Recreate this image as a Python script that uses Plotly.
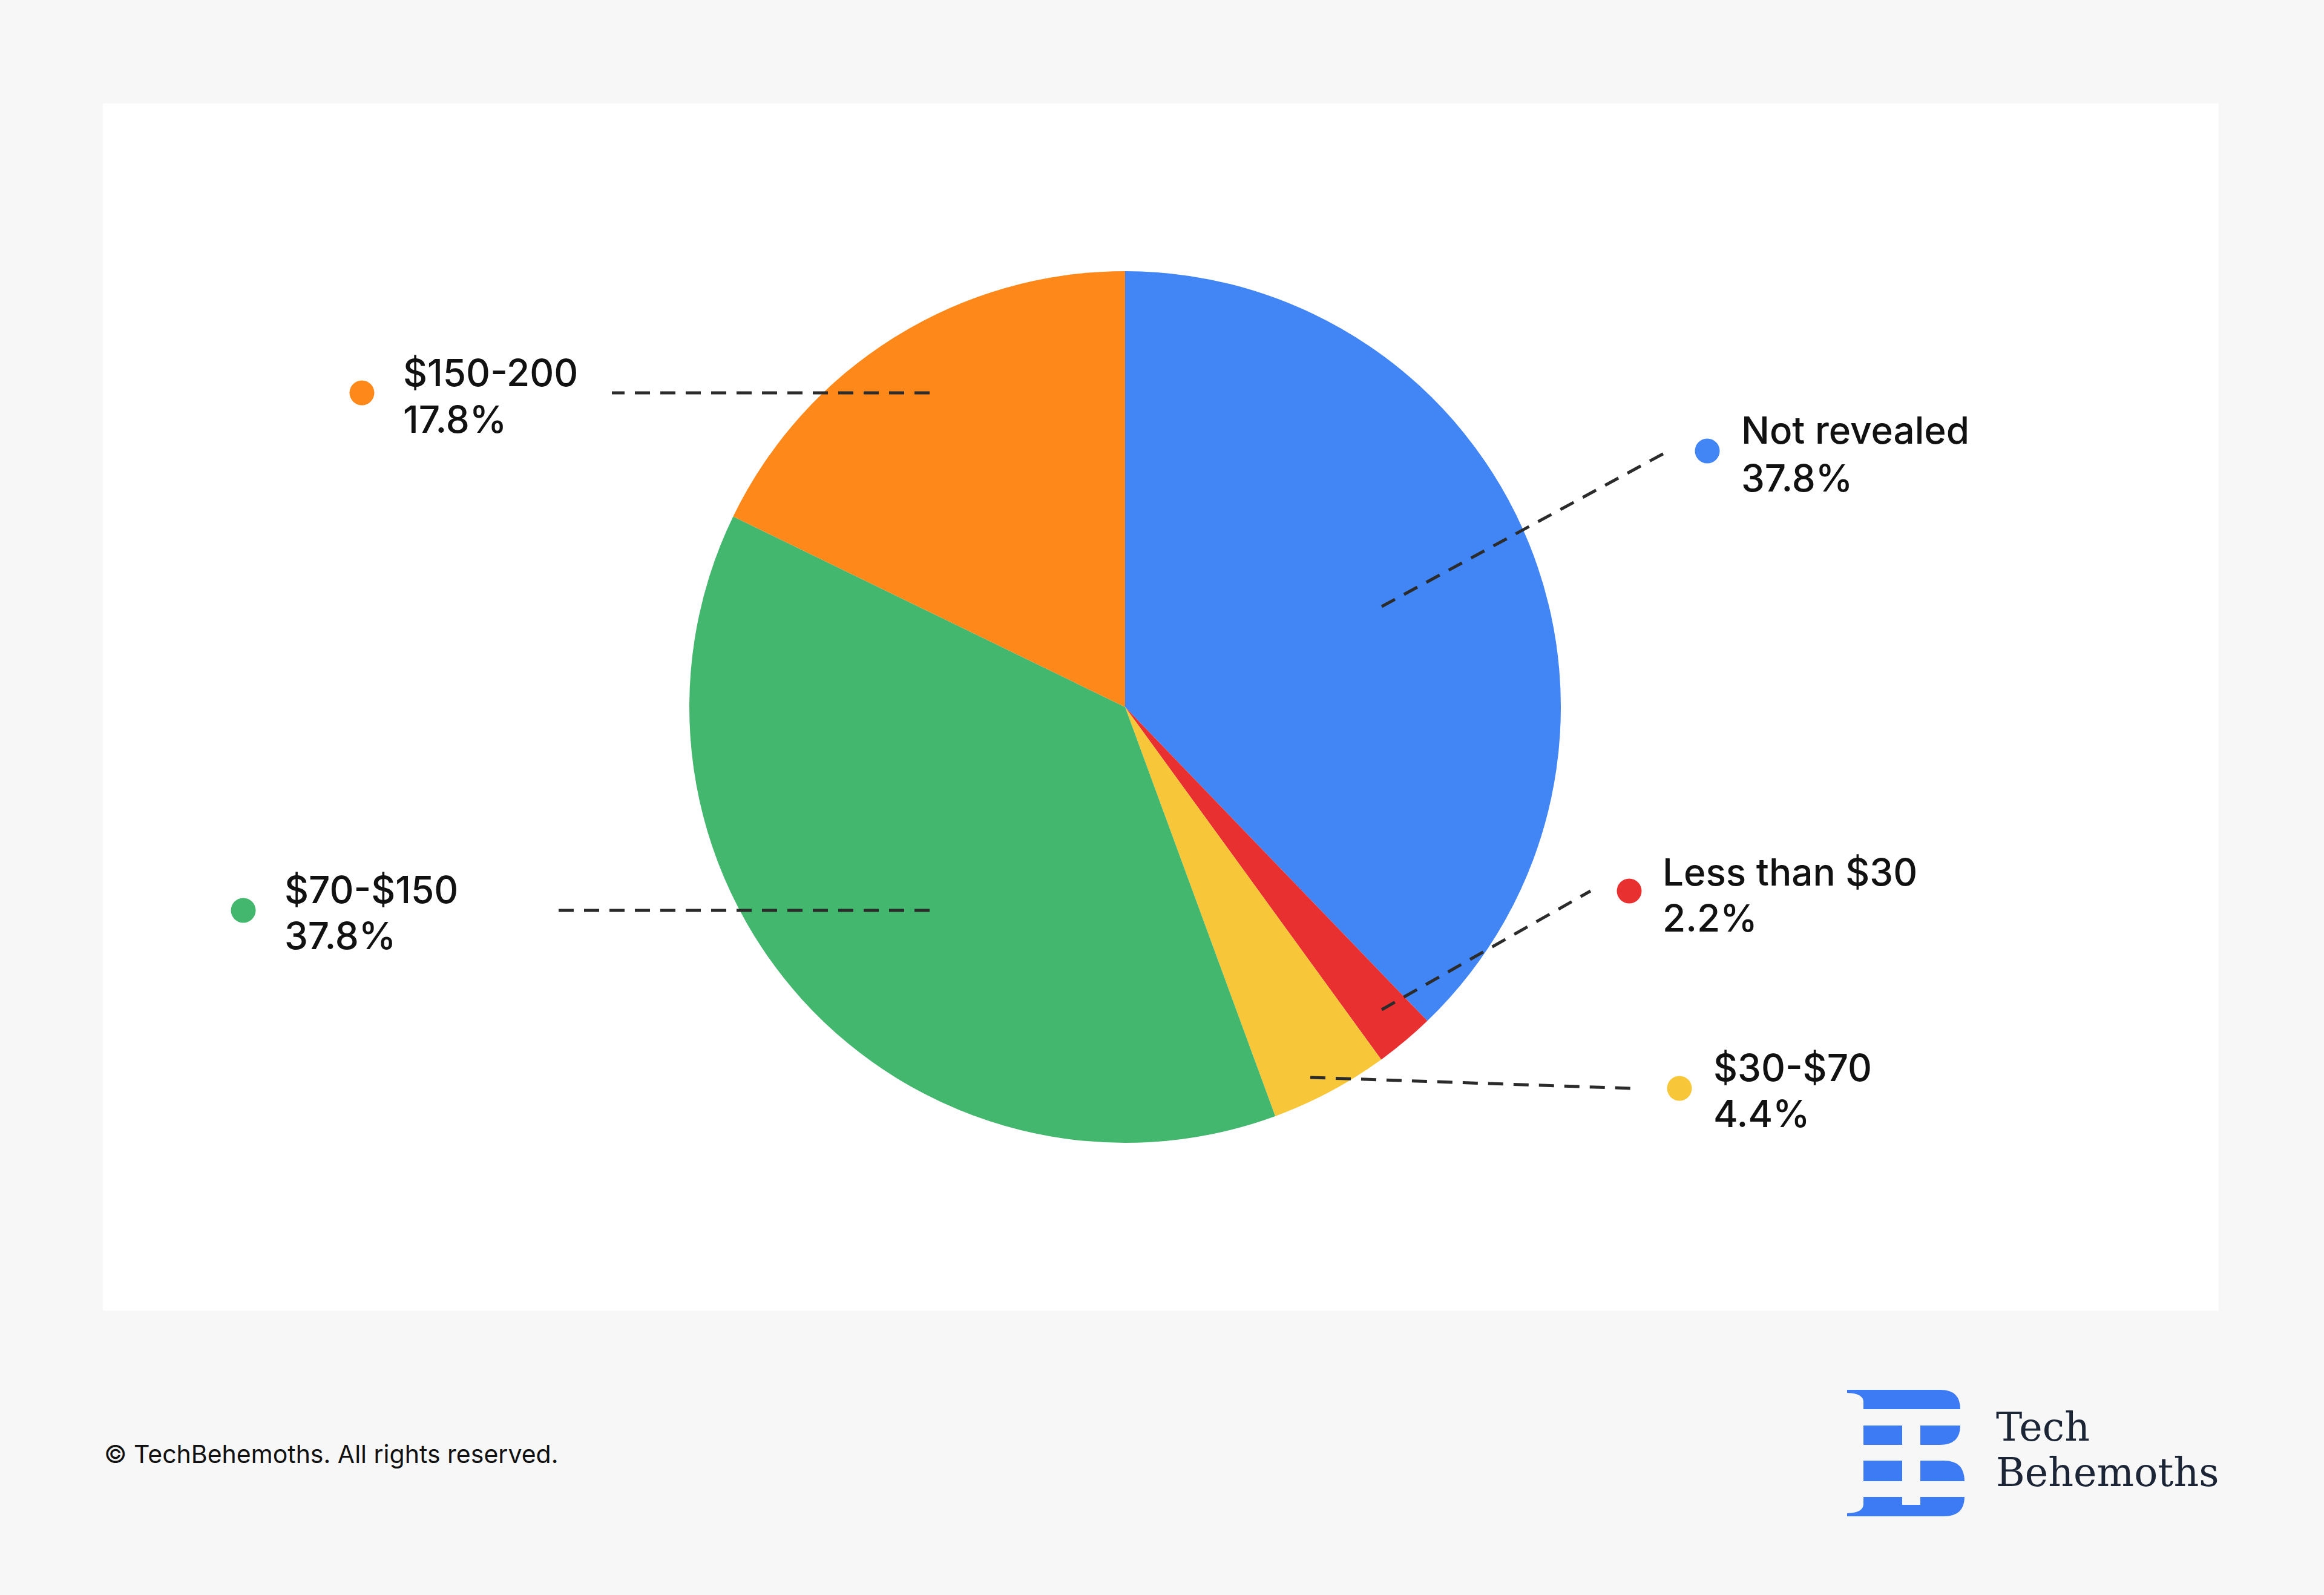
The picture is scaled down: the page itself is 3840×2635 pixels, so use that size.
import plotly.graph_objects as go

W, H = 3840, 2635

# ---- data ----
categories = ["Not revealed", "Less than $30", "$30-$70", "$70-$150", "$150-200"]
values = [37.8, 2.2, 4.4, 37.8, 17.8]
pct_labels = ["37.8%", "2.2%", "4.4%", "37.8%", "17.8%"]
colors = ["#4285F4", "#E83030", "#F8C739", "#44B76E", "#FF881A"]

# ---- layout helpers (pixel -> paper) ----
def px(x):
    return x / W

def py(y):
    return 1 - y / H

# label layout: dot centre, text left x, line1 y, line2 y, leader (inner -> outer)
label_layout = {
    "Not revealed": dict(dot=(2821, 745), tx=2875, y1=710, y2=789, line=((2283, 1002), (2753, 747))),
    "Less than $30": dict(dot=(2692, 1472), tx=2745, y1=1440, y2=1516, line=((2283, 1668), (2628, 1472))),
    "$30-$70": dict(dot=(2775, 1798), tx=2829, y1=1763, y2=1839, line=((2165, 1780), (2696, 1798))),
    "$70-$150": dict(dot=(402, 1504), tx=468, y1=1469, y2=1545, line=((1536, 1504), (913, 1504))),
    "$150-200": dict(dot=(598, 649), tx=664, y1=615, y2=693, line=((1536, 649), (1011, 649))),
}

cx, cy, r = 1859, 1168, 720

fig = go.Figure()
fig.add_trace(go.Pie(
    labels=categories,
    values=values,
    marker=dict(colors=colors, line=dict(width=0)),
    sort=False,
    direction="clockwise",
    rotation=0,
    textinfo="none",
    hoverinfo="label+percent",
    showlegend=False,
    domain=dict(x=[px(cx - r), px(cx + r)], y=[py(cy + r), py(cy - r)]),
))

shapes = []
# white panel
shapes.append(dict(type="rect", xref="paper", yref="paper",
                   x0=px(170), x1=px(3666), y0=py(2165), y1=py(171),
                   fillcolor="white", line=dict(width=0), layer="below"))

annotations = []
font_family = "Inter, Roboto, sans-serif"
for cat, pct, col in zip(categories, pct_labels, colors):
    L = label_layout[cat]
    (x0, y0), (x1, y1) = L["line"]
    shapes.append(dict(type="line", xref="paper", yref="paper",
                       x0=px(x0), y0=py(y0), x1=px(x1), y1=py(y1),
                       line=dict(color="#2B2B2B", width=5, dash="25px,17px"),
                       layer="above"))
    dx, dy = L["dot"]
    rd = 20.5
    shapes.append(dict(type="circle", xref="paper", yref="paper",
                       x0=px(dx - rd), x1=px(dx + rd), y0=py(dy + rd), y1=py(dy - rd),
                       fillcolor=col, line=dict(width=0), layer="above"))
    annotations.append(dict(x=px(L["tx"]), y=py(L["y1"]), xref="paper", yref="paper",
                            text=cat, showarrow=False, xanchor="left", yanchor="middle",
                            font=dict(family=font_family, size=62, weight=500, color="#111111")))
    annotations.append(dict(x=px(L["tx"]), y=py(L["y2"]), xref="paper", yref="paper",
                            text=pct, showarrow=False, xanchor="left", yanchor="middle",
                            font=dict(family=font_family, size=62, weight=500, color="#111111")))

# footer
annotations.append(dict(x=px(170), y=py(2402), xref="paper", yref="paper",
                        text="© TechBehemoths. All rights reserved.", showarrow=False,
                        xanchor="left", yanchor="middle",
                        font=dict(family=font_family, size=41, color="#111111")))

# logo text
annotations.append(dict(x=px(3296), y=py(2357), xref="paper", yref="paper",
                        text="Tech", showarrow=False, xanchor="left", yanchor="middle",
                        font=dict(family="DejaVu Serif, serif", size=65, color="#1B2536")))
annotations.append(dict(x=px(3296), y=py(2432), xref="paper", yref="paper",
                        text="Behemoths", showarrow=False, xanchor="left", yanchor="middle",
                        font=dict(family="DejaVu Serif, serif", size=65, color="#1B2536")))

# logo mark (pixel path converted to paper)
def path(points_cmds):
    out = []
    for c in points_cmds:
        if isinstance(c, str):
            out.append(c)
        else:
            out.append(f"{px(c[0]):.6f},{py(c[1]):.6f}")
    return " ".join(out)

logo_blue = "#3D7BF4"
logo_paths = [
    ["M", (3052, 2296), "L", (3206, 2296), "Q", (3239, 2296), (3239, 2328), "L", (3079, 2328),
     "L", (3079, 2316), "Q", (3079, 2302), (3052, 2301), "Z"],
    ["M", (3079, 2355), "L", (3143, 2355), "L", (3143, 2387), "L", (3079, 2387), "Z"],
    ["M", (3173, 2355), "L", (3239, 2355), "Q", (3239, 2387), (3205, 2387), "L", (3173, 2387), "Z"],
    ["M", (3079, 2413), "L", (3143, 2413), "L", (3143, 2447), "L", (3079, 2447), "Z"],
    ["M", (3173, 2413), "L", (3212, 2413), "Q", (3246, 2413), (3246, 2447), "L", (3173, 2447), "Z"],
    ["M", (3079, 2473), "L", (3143, 2473), "L", (3143, 2486), "L", (3173, 2486), "L", (3173, 2473),
     "L", (3246, 2473), "Q", (3246, 2505), (3212, 2505), "L", (3052, 2505), "L", (3052, 2500),
     "Q", (3079, 2499), (3079, 2485), "Z"],
]
for p in logo_paths:
    shapes.append(dict(type="path", xref="paper", yref="paper", path=path(p),
                       fillcolor=logo_blue, line=dict(width=0), layer="above"))

fig.update_layout(
    width=W, height=H,
    margin=dict(l=0, r=0, t=0, b=0),
    paper_bgcolor="#F7F7F7",
    plot_bgcolor="#F7F7F7",
    shapes=shapes,
    annotations=annotations,
    showlegend=False,
)

fig.write_html(
    "out.html",
    config={"displayModeBar": False},
    post_script="document.body.style.margin='0';document.body.style.background='#F7F7F7';document.body.style.overflow='hidden';",
)
